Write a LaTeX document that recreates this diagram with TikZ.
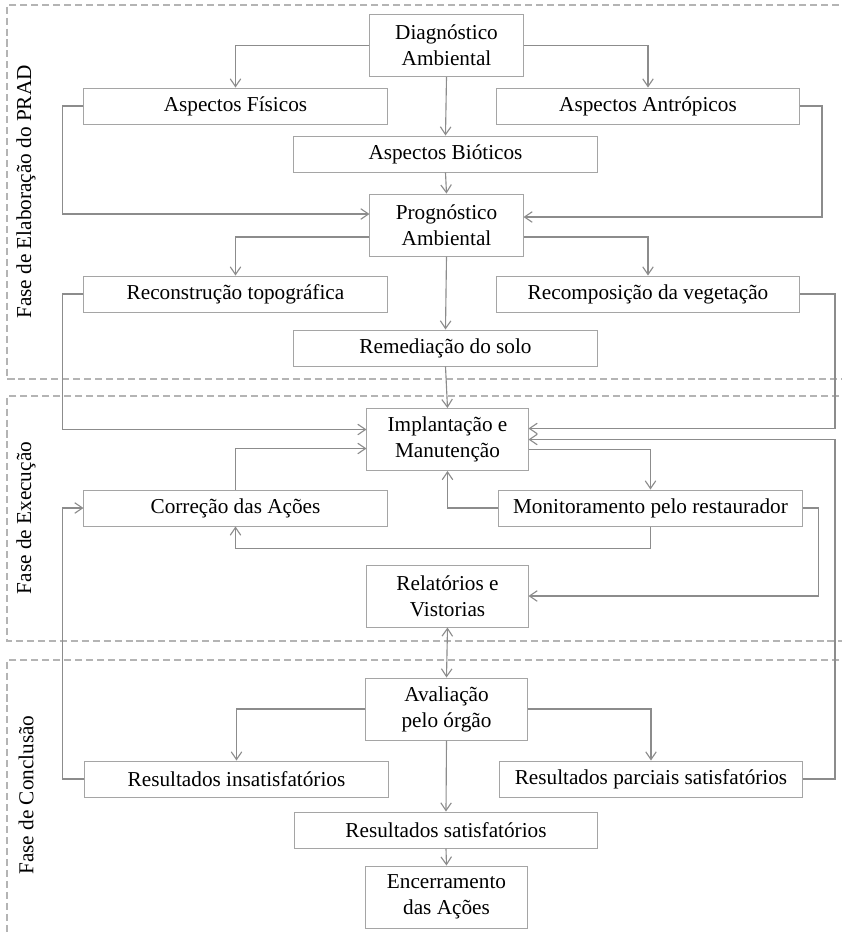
\documentclass[tikz,border=0pt]{standalone}
\usepackage{fontspec}
\setmainfont{Liberation Serif}
\usetikzlibrary{arrows.meta, calc}
\definecolor{boxGray}{RGB}{165,165,165}
\definecolor{lineGray}{RGB}{140,140,140}
\definecolor{frameGray}{RGB}{180,180,180}
\tikzset{
  stage/.style={draw=boxGray, line width=0.7pt, align=center, inner sep=0pt,
                minimum width=7.575cm, minimum height=0.9cm},
  stagetall/.style={stage, minimum width=4.025cm, minimum height=1.55cm},
  flow/.style={draw=lineGray, line width=0.8pt,
               -{Straight Barb[length=5.5pt, width=7.5pt]}},
  twoway/.style={flow, {Straight Barb[length=5.5pt, width=7.5pt]}-{Straight Barb[length=5.5pt, width=7.5pt]}},
  phase/.style={draw=frameGray, line width=0.8pt, dash pattern=on 5pt off 2.8pt},
  phaselabel/.style={rotate=90},
}

\begin{document}
\begin{tikzpicture}[x=0.025cm, y=-0.025cm, font=\fontsize{15.1}{18.6}\selectfont]
  \useasboundingbox (0,0) rectangle (842,936);
  \clip (0,0) rectangle (842,936);

  % ----- phase frames -----
  \draw[phase] (850,5) -| (7,379) -- (850,379);
  \draw[phase] (850,396) -| (7,641) -- (850,641);
  \draw[phase] (850,660) -| (7,950);
  \node[phaselabel] (faseElab) at (26,192) {Fase de Elaboração do PRAD};
  \node[phaselabel] (faseExec) at (26,518) {Fase de Execução};
  \node[phaselabel] (faseConc) at (26,795) {Fase de Conclusão};

  % ----- elaboration -----
  \node[stagetall, minimum width=3.825cm] (diag) at (446.5,45.5) {Diagnóstico\\ Ambiental};
  \node[stage] (fis)  at (235.5,106) {Aspectos Físicos};
  \node[stage] (antr) at (648,106)   {Aspectos Antrópicos};
  \node[stage] (biot) at (445.5,154) {Aspectos Bióticos};
  \node[stagetall, minimum width=3.825cm] (prog) at (446.5,225) {Prognóstico\\ Ambiental};
  \node[stage] (rec)  at (235.5,294) {Reconstrução topográfica};
  \node[stage] (veg)  at (648,294)   {Recomposição da vegetação};
  \node[stage] (rem)  at (445.5,348) {Remediação do solo};

  % ----- execution -----
  \node[stagetall] (impl) at (447.5,439.5) {Implantação e\\ Manutenção};
  \node[stage] (corr) at (235.5,508) {Correção das Ações};
  \node[stage] (mon)  at (650.5,508) {Monitoramento pelo restaurador};
  \node[stagetall] (rel)  at (447.5,596) {Relatórios e\\ Vistorias};

  % ----- conclusion -----
  \node[stagetall] (aval)  at (446.5,709) {Avaliação\\ pelo órgão};
  \node[stage] (insat) at (236.5,779) {Resultados insatisfatórios};
  \node[stage] (parc)  at (651,779)   {Resultados parciais satisfatórios};
  \node[stage] (sat)   at (446,830)   {Resultados satisfatórios};
  \node[stagetall] (enc)   at (446.5,897) {Encerramento\\ das Ações};

  % ----- connectors -----
  \draw[flow] (diag.west) -| (fis.north);
  \draw[flow] (diag.east) -| (antr.north);
  \draw[flow] (diag.south) -- (biot.north);
  \draw[flow] (biot.south) -- (prog.north);
  \draw[flow] (fis.west) -- ++(-21,0) |- ($(prog.west)+(0,-11)$);
  \draw[flow] (antr.east) -- ++(22,0) |- ($(prog.east)+(0,-8)$);
  \draw[flow] ($(prog.west)+(0,12)$) -| (rec.north);
  \draw[flow] ($(prog.east)+(0,12)$) -| (veg.north);
  \draw[flow] (prog.south) -- (rem.north);

  \draw[flow] (rec.west) -- ++(-21,0) |- ($(impl.west)+(0,-10)$);
  \draw[flow] (veg.east) -- ++(35,0) |- ($(impl.east)+(0,-11)$);
  \draw[flow] (rem.south) -- (impl.north);
  \draw[flow] (corr.north) |- ($(impl.west)+(0,9)$);
  \draw[flow] ($(impl.east)+(0,10)$) -| (mon.north);
  \draw[flow] (mon.west) -| (impl.south);
  \draw[flow] (mon.south) -- ++(0,22) -| (corr.south);
  \draw[flow] (mon.east) -- ++(16,0) |- (rel.east);
  \draw[twoway] (rel.south) -- (aval.north);

  \draw[flow] (aval.west) -| (insat.north);
  \draw[flow] (aval.east) -| (parc.north);
  \draw[flow] (aval.south) -- (sat.north);
  \draw[flow] (sat.south) -- (enc.north);
  \draw[flow] (insat.west) -- ++(-22,0) |- (corr.west);
  \draw[flow] (parc.east) -- ++(32,0) |- (impl.east);
\end{tikzpicture}
\end{document}
